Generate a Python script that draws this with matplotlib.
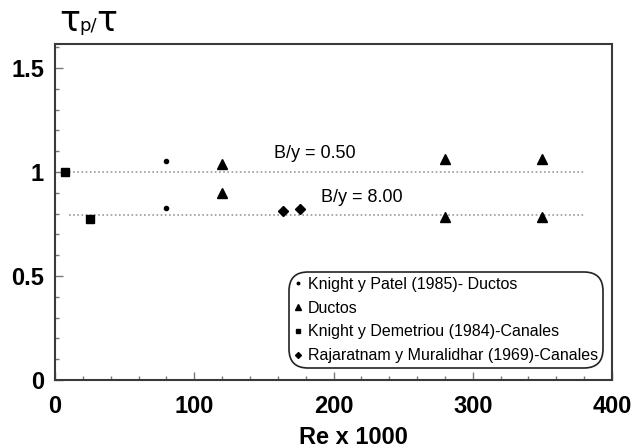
import numpy as np
import matplotlib.pyplot as plt
from matplotlib.ticker import MultipleLocator

plt.rcParams['font.family'] = ['Liberation Sans', 'DejaVu Sans']

# data
patel_re = [80, 80]
patel_tau = [1.054, 0.828]

ductos_re = [120, 120, 280, 280, 350, 350]
ductos_tau = [1.038, 0.897, 1.062, 0.782, 1.062, 0.782]

demetriou_re = [7, 25]
demetriou_tau = [1.0, 0.772]

rajaratnam_re = [164, 176]
rajaratnam_tau = [0.81, 0.82]

ref_re = [10, 380]
ref_levels = [1.0, 0.793]
ref_labels = ["B/y = 0.50", "B/y = 8.00"]
ref_label_pos = [(157, 1.09), (191, 0.875)]

fig = plt.figure(figsize=(6.32, 4.48), dpi=100)
W, H = 632, 448
ax = fig.add_axes([55 / W, (H - 380) / H, (612 - 55) / W, (380 - 44) / H])

for lvl in ref_levels:
    ax.plot(ref_re, [lvl, lvl], ls=(0, (1, 1.5)), color="#9a9a9a", lw=1.2, zorder=1)

ax.plot(patel_re, patel_tau, ls="None", marker="o", ms=3, color="black",
        label="Knight y Patel (1985)- Ductos")
ax.plot(ductos_re, ductos_tau, ls="None", marker="^", ms=7, color="black",
        label="Ductos")
ax.plot(demetriou_re, demetriou_tau, ls="None", marker="s", ms=6, color="black",
        label="Knight y Demetriou (1984)-Canales")
ax.plot(rajaratnam_re, rajaratnam_tau, ls="None", marker="D", ms=5, color="black",
        label="Rajaratnam y Muralidhar (1969)-Canales")

for txt, (x, y) in zip(ref_labels, ref_label_pos):
    ax.text(x, y, txt, fontsize=13, ha="left", va="center")

ax.set_xlim(0, 400)
ax.set_ylim(0, 1.615)
ax.xaxis.set_major_locator(MultipleLocator(100))
ax.xaxis.set_minor_locator(MultipleLocator(20))
ax.yaxis.set_major_locator(MultipleLocator(0.5))
ax.yaxis.set_minor_locator(MultipleLocator(0.1))
ax.set_yticks([0, 0.5, 1, 1.5])
ax.set_yticklabels(["0", "0.5", "1", "1.5"])

ax.tick_params(which="both", direction="in", color="#777777", top=False, right=False,
               labelsize=17)
ax.tick_params(which="major", length=6, width=1)
ax.tick_params(which="minor", length=3, width=1)
ax.tick_params(axis="x", which="major", pad=11)
ax.tick_params(axis="y", which="major", pad=8)
for lab in ax.get_xticklabels() + ax.get_yticklabels():
    lab.set_fontweight("bold")

for sp in ax.spines.values():
    sp.set_color("#3a3a3a")
    sp.set_linewidth(1.5)

ax.set_xlabel("Re x 1000", fontsize=17, fontweight="bold")
ax.xaxis.set_label_coords((353 - 55) / (612 - 55), -(426 - 380) / (380 - 44))

# y label "τp/τ" at the top left, big tau with smaller "p/"
fig.text(59 / W, 1 - 31 / H, "τ", fontsize=25, family="DejaVu Sans")
fig.text(79 / W, 1 - 31 / H, "p/", fontsize=13, family="DejaVu Sans")
fig.text(96 / W, 1 - 31 / H, "τ", fontsize=25, family="DejaVu Sans")

leg = ax.legend(loc="lower right", bbox_to_anchor=(603 / W, 1 - 368 / H),
                bbox_transform=fig.transFigure, fontsize=11.5, frameon=True,
                fancybox=True, edgecolor="#222222", handlelength=0.5,
                handletextpad=0.4, labelspacing=0.55, borderpad=0.3,
                markerscale=0.6, borderaxespad=0)
frame = leg.get_frame()
frame.set_linewidth(1.2)
frame.set_alpha(1)
frame.set_boxstyle("round", pad=0, rounding_size=1.2)

plt.savefig("out.png", dpi=100)
